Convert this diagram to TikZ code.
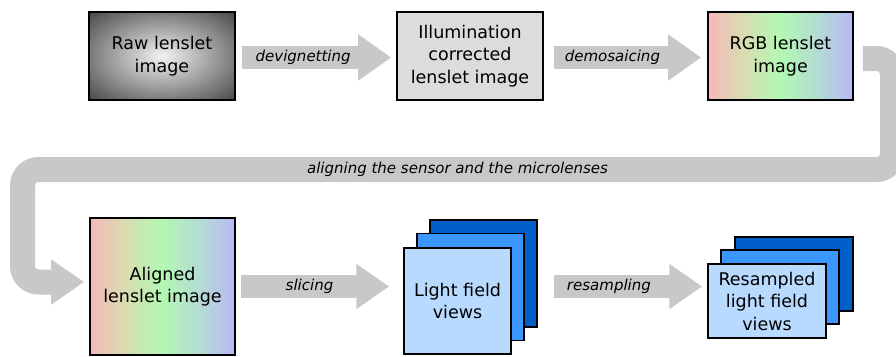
\documentclass[tikz,border=0pt]{standalone}
\usepackage{fontspec}
\setmainfont{DejaVu Sans}
\usetikzlibrary{arrows.meta}
\definecolor{arrowgray}{HTML}{C8C8C8}
\definecolor{vlight}{HTML}{F2F2F2}
\definecolor{vdark}{HTML}{454545}
\definecolor{illumgray}{HTML}{DCDCDC}
\definecolor{rA}{HTML}{F6B8B8}
\definecolor{rB}{HTML}{D8DDB2}
\definecolor{rC}{HTML}{B2F8B2}
\definecolor{rD}{HTML}{B4DCD4}
\definecolor{rE}{HTML}{B8B8F6}
\definecolor{bDark}{HTML}{005FC8}
\definecolor{bMid}{HTML}{3C96FF}
\definecolor{bLight}{HTML}{B9DAFF}
\pgfdeclareradialshading{vign}{\pgfpoint{0bp}{0bp}}{color(0bp)=(vlight); color(36bp)=(vdark); color(50bp)=(vdark)}
\pgfdeclarehorizontalshading{rgbsh}{100bp}{color(0bp)=(rA); color(25bp)=(rA); color(37.5bp)=(rB); color(50bp)=(rC); color(62.5bp)=(rD); color(75bp)=(rE); color(100bp)=(rE)}
\tikzset{
  boxtext/.style={align=center, font=\fontsize{17.5}{22.5}\selectfont, text=black},
  imgbox/.style={boxtext, draw=black, line width=1.6pt, inner sep=0pt, minimum width=146pt, minimum height=88pt},
  viewbox/.style={boxtext, draw=black, line width=1.4pt, inner sep=0pt},
  lbl/.style={font=\fontsize{15}{18}\selectfont\itshape, text=black, inner sep=0pt},
  bigarrow/.style={draw=arrowgray, line width=23pt, -{Triangle[length=33pt,width=44pt]}},
  uarrow/.style={draw=arrowgray, line width=25pt, rounded corners=16pt, -{Triangle[length=33pt,width=43pt]}}
}
\begin{document}
\begin{tikzpicture}[x=1pt, y=-1pt]
\useasboundingbox (0,0) rectangle (896,356);
% top row
\node[imgbox, shading=vign] (raw) at (162,56) {Raw lenslet\\image};
\node[imgbox, fill=illumgray] (illum) at (470,56) {Illumination\\corrected\\lenslet image};
\node[imgbox, shading=rgbsh, minimum width=145pt] (rgb) at (780.5,56) {RGB lenslet\\image};
% bottom row
\node[imgbox, shading=rgbsh, minimum width=145pt, minimum height=137pt] (aligned) at (162.5,286.5) {Aligned\\lenslet image};
% light field stack
\node[viewbox, fill=bDark, minimum width=107pt, minimum height=107pt] (lf3) at (483.5,273.5) {};
\node[viewbox, fill=bMid, minimum width=107pt, minimum height=107pt] (lf2) at (470.5,287) {};
\node[viewbox, fill=bLight, minimum width=107pt, minimum height=106pt] (lf) at (457.5,301) {Light field\\views};
% resampled stack
\node[viewbox, fill=bDark, minimum width=118pt, minimum height=74pt] (rs3) at (794,274) {};
\node[viewbox, fill=bMid, minimum width=118pt, minimum height=74pt] (rs2) at (780,287) {};
\node[viewbox, fill=bLight, minimum width=118pt, minimum height=74pt] (rs) at (767,301) {Resampled\\light field\\views};
% straight arrows
\draw[bigarrow, shorten <=6pt, shorten >=5pt] ([yshift=-1.5pt]raw.east) -- node[lbl, pos=0.42] {devignetting} ([yshift=-1.5pt]illum.west);
\draw[bigarrow, shorten <=10pt, shorten >=6pt] ([yshift=-1.5pt]illum.east) -- node[lbl, pos=0.42] {demosaicing} ([yshift=-1.5pt]rgb.west);
\draw[bigarrow, shorten <=5pt, shorten >=14pt, -{Triangle[length=33pt,width=43pt]}] (aligned.east) -- node[lbl, pos=0.44] {slicing} (aligned.east -| lf.west);
\draw[bigarrow, shorten <=16pt, shorten >=5pt, -{Triangle[length=33pt,width=43pt]}] (lf3.east |- aligned.east) -- node[lbl, pos=0.42] {resampling} (aligned.east -| rs.west);
% U-shaped arrow
\coordinate (ua) at (892.5,58.5);
\coordinate (ub) at (892.5,169.5);
\coordinate (uc) at (22.5,169.5);
\coordinate (ud) at (22.5,282);
\draw[uarrow, shorten <=9pt, shorten >=5pt] (rgb.east |- ua) -- (ua) -- (ub) -- node[lbl] {aligning the sensor and the microlenses} (uc) -- (ud) -- (ud -| aligned.west);
\end{tikzpicture}
\end{document}
